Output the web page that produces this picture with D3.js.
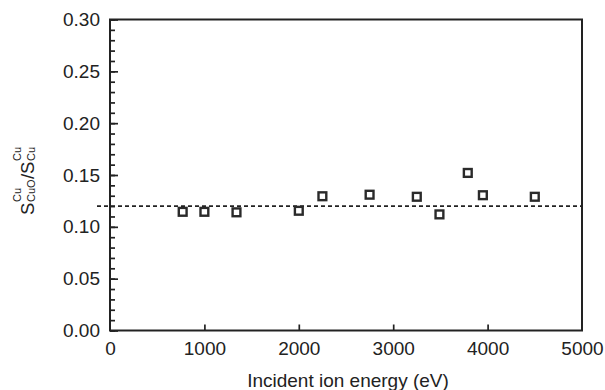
<!DOCTYPE html>
<html>
<head>
<meta charset="utf-8">
<script src="https://cdn.jsdelivr.net/npm/d3@7"></script>
<style>
  body { margin: 0; background: #fff; }
  svg { font-family: "Liberation Sans", Arial, sans-serif; }
</style>
</head>
<body>
<svg id="chart" width="605" height="390"></svg>
<script>
// incident ion energy (eV) and sputter yield ratio
const energy = [770, 1000, 1340, 2000, 2250, 2750, 3250, 3490, 3790, 3950, 4500];
const ratio = [0.1145, 0.1145, 0.114, 0.1155, 0.1295, 0.131, 0.129, 0.112, 0.152, 0.1305, 0.129];
const meanRatio = 0.12;
const xTicks = [0, 1000, 2000, 3000, 4000, 5000];
const yTicks = [0, 0.05, 0.10, 0.15, 0.20, 0.25, 0.30];

const svg = d3.select('#chart');
const ink = '#222';

const x = d3.scaleLinear().domain([0, 5000]).range([110, 582]);
const y = d3.scaleLinear().domain([0, 0.30]).range([330.5, 19.5]);

// minor y ticks
svg.append('g')
    .attr('transform', `translate(${x.range()[0]},0)`)
    .call(d3.axisLeft(y).tickValues(d3.range(0, 0.301, 0.01)).tickSize(-5).tickFormat(''))
    .call(g => g.select('.domain').remove())
    .call(g => g.selectAll('line').attr('stroke', ink).attr('stroke-width', 1.7));

// major y ticks + labels
svg.append('g')
    .attr('transform', `translate(${x.range()[0]},0)`)
    .call(d3.axisLeft(y).tickValues(yTicks).tickSize(-8).tickPadding(10).tickFormat(d3.format('.2f')))
    .call(g => g.select('.domain').remove())
    .call(g => g.selectAll('line').attr('stroke', ink).attr('stroke-width', 1.7))
    .call(g => g.selectAll('text').attr('font-size', 19).attr('fill', ink)
        .attr('font-family', '"Liberation Sans", Arial, sans-serif'));

// x ticks (inner only) + labels
svg.append('g')
    .attr('transform', `translate(0,${y.range()[0]})`)
    .call(d3.axisBottom(x).tickValues(xTicks).tickSize(-6).tickPadding(11).tickFormat(d3.format('d')))
    .call(g => g.select('.domain').remove())
    .call(g => g.selectAll('line').attr('stroke', ink).attr('stroke-width', 1.7)
        .attr('display', d => (d === 0 || d === 5000) ? 'none' : null))
    .call(g => g.selectAll('text').attr('font-size', 19).attr('fill', ink)
        .attr('font-family', '"Liberation Sans", Arial, sans-serif'));

// frame
svg.append('rect')
    .attr('x', x.range()[0])
    .attr('y', y.range()[1])
    .attr('width', x.range()[1] - x.range()[0])
    .attr('height', y.range()[0] - y.range()[1])
    .attr('fill', 'none')
    .attr('stroke', ink)
    .attr('stroke-width', 2);

// mean line
svg.append('line')
    .attr('x1', x.range()[0] - 13)
    .attr('x2', x.range()[1])
    .attr('y1', y(meanRatio))
    .attr('y2', y(meanRatio))
    .attr('stroke', ink)
    .attr('stroke-width', 1.7)
    .attr('stroke-dasharray', '4,3');

// markers
svg.append('g')
    .selectAll('.pt')
    .data(energy.map((e, i) => ({ e, r: ratio[i] })))
    .enter()
    .append('rect')
    .classed('pt', true)
    .attr('x', d => x(d.e) - 3.9)
    .attr('y', d => y(d.r) - 3.9)
    .attr('width', 7.8)
    .attr('height', 7.8)
    .attr('fill', '#fff')
    .attr('stroke', '#2a2a2a')
    .attr('stroke-width', 2.4);

// x title
svg.append('text')
    .attr('x', 348)
    .attr('y', 387)
    .attr('text-anchor', 'middle')
    .attr('font-size', 19)
    .attr('fill', ink)
    .text('Incident ion energy (eV)');

// y title: S^Cu_CuO / S^Cu_Cu
const yt = svg.append('g').attr('transform', 'translate(34,215) rotate(-90)')
    .attr('fill', ink);
const piece = (txt, px, py, size) => yt.append('text')
    .attr('x', px).attr('y', py).attr('font-size', size).text(txt);
piece('S', 0, 0, 18.5);
piece('CuO', 13, 1, 11);
piece('Cu', 13, -13, 11);
piece('/', 36, 0, 18.5);
piece('S', 41, 0, 18.5);
piece('Cu', 54, 1, 11);
piece('Cu', 54, -13, 11);
</script>
</body>
</html>
